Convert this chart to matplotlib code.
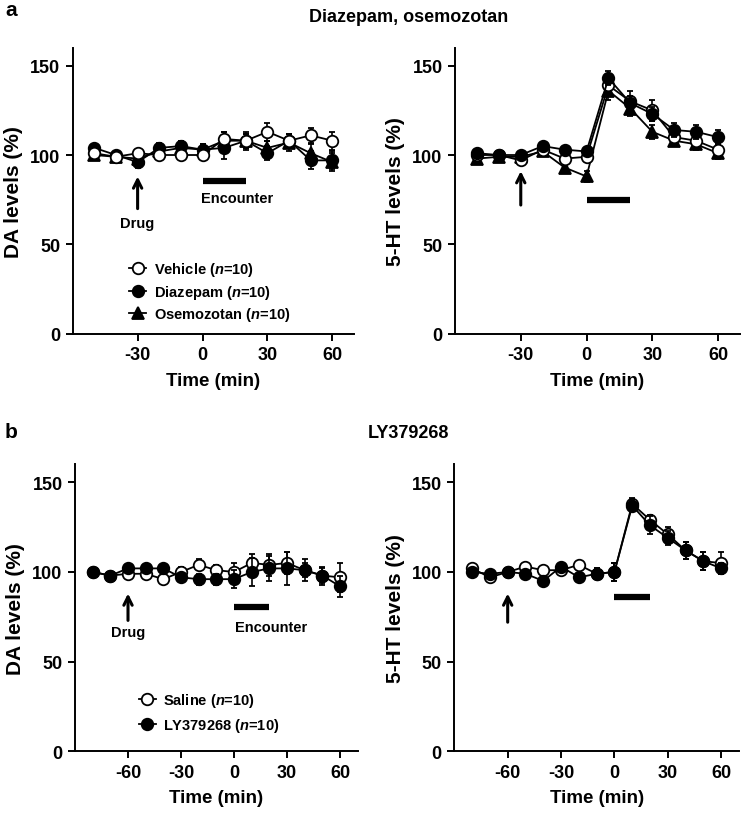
import matplotlib
matplotlib.use("Agg")
import matplotlib.pyplot as plt
from matplotlib.lines import Line2D

plt.rcParams['font.family'] = ['Liberation Sans', 'DejaVu Sans']
plt.rcParams['font.weight'] = 'bold'
plt.rcParams['mathtext.fontset'] = 'custom'
plt.rcParams['mathtext.it'] = 'Liberation Sans:italic:bold'
plt.rcParams['mathtext.rm'] = 'Liberation Sans:bold'

# ---------------- data ----------------
time_a = [-50, -40, -30, -20, -10, 0, 10, 20, 30, 40, 50, 60]
time_b = [-80, -70, -60, -50, -40, -30, -20, -10, 0, 10, 20, 30, 40, 50, 60]

# panel a, DA
da_vehicle = [101, 99, 101, 100, 100, 100, 109, 108, 113, 108, 111, 108]
da_vehicle_err = [2, 2, 2, 2, 2, 2, 4, 4, 5, 4, 4, 5]
da_diazepam = [104, 100, 96, 104, 105, 103, 104, 108, 101, 108, 97, 97]
da_diazepam_err = [2, 2, 3, 3, 3, 3, 6, 5, 4, 4, 5, 5]
da_osemozotan = [100, 99, 98, 102, 104, 103, 108, 108, 104, 107, 101, 96]
da_osemozotan_err = [2, 2, 2, 3, 4, 3, 5, 4, 4, 5, 5, 5]

# panel a, 5-HT
ht_vehicle = [100, 100, 97, 103, 98, 99, 139, 130, 125, 110, 108, 103]
ht_vehicle_err = [2, 2, 2, 2, 3, 3, 4, 6, 6, 4, 4, 3]
ht_diazepam = [101, 100, 100, 105, 103, 102, 143, 129, 123, 114, 113, 110]
ht_diazepam_err = [2, 2, 2, 2, 2, 2, 4, 4, 4, 4, 4, 4]
ht_osemozotan = [98, 99, 99, 102, 93, 88, 136, 126, 113, 108, 106, 101]
ht_osemozotan_err = [2, 2, 2, 2, 3, 3, 5, 4, 4, 3, 3, 3]

# panel b, DA
db_saline = [100, 98, 99, 99, 96, 100, 104, 101, 100, 105, 104, 105, 101, 98, 97]
db_saline_err = [2, 2, 2, 2, 2, 3, 3, 3, 5, 5, 6, 6, 4, 4, 8]
db_ly = [100, 98, 102, 102, 102, 97, 96, 96, 96, 100, 102, 102, 101, 98, 92]
db_ly_err = [2, 2, 2, 2, 2, 2, 3, 3, 5, 8, 7, 9, 6, 5, 6]

# panel b, 5-HT
hb_saline = [102, 97, 100, 103, 101, 101, 104, 99, 100, 138, 129, 121, 112, 106, 105]
hb_saline_err = [2, 2, 2, 2, 2, 2, 2, 3, 5, 3, 3, 4, 5, 5, 6]
hb_ly = [100, 99, 100, 99, 95, 103, 97, 99, 100, 137, 126, 119, 112, 106, 102]
hb_ly_err = [2, 2, 2, 2, 3, 2, 2, 3, 5, 3, 5, 4, 5, 5, 3]

drug_time_a = -30
drug_time_b = -60
encounter = [0, 20]

yticks = [0, 50, 100, 150]
xticks_a = [-30, 0, 30, 60]
xticks_b = [-60, -30, 0, 30, 60]

labels_a = ['Vehicle', 'Diazepam', 'Osemozotan']
labels_b = ['Saline', 'LY379268']

# ---------------- figure ----------------
W, H = 743, 820
fig = plt.figure(figsize=(W / 100, H / 100), dpi=100)


def add_ax(x0, x1, ybot, ytop):
    return fig.add_axes([x0 / W, 1 - ybot / H, (x1 - x0) / W, (ybot - ytop) / H])


axA1 = add_ax(72.7, 354, 334.7, 48.8)
axA2 = add_ax(455, 740, 334.7, 48.8)
axB1 = add_ax(75, 357.7, 752.3, 465.4)
axB2 = add_ax(454.3, 739, 752.3, 465.4)

MS = 8.3
STY = {
    'open': dict(marker='o', mfc='white', mec='black', ms=MS),
    'fill': dict(marker='o', mfc='black', mec='black', ms=MS),
    'tri': dict(marker='^', mfc='black', mec='black', ms=MS),
}


def series(ax, t, y, e, kind, z):
    ax.errorbar(t, y, yerr=e, color='black', lw=1.3, elinewidth=1.2,
                capsize=2.5, capthick=1.2, mew=1.3, zorder=z, clip_on=False,
                **STY[kind])


def style(ax, xlim, xticks, ylabel):
    ax.set_xlim(*xlim)
    ax.set_ylim(0, 160)
    ax.set_yticks(yticks)
    ax.set_xticks(xticks)
    ax.set_xticklabels([str(v) for v in xticks])
    for s in ['top', 'right']:
        ax.spines[s].set_visible(False)
    for s in ['left', 'bottom']:
        ax.spines[s].set_linewidth(1.4)
    ax.tick_params(direction='out', length=5, width=1.4, labelsize=13, pad=4)
    for lab in ax.get_xticklabels() + ax.get_yticklabels():
        lab.set_fontweight('bold')
    ax.set_xlabel('Time (min)', fontsize=13.5, fontweight='bold', labelpad=6)
    ax.set_ylabel(ylabel, fontsize=15, fontweight='bold', labelpad=5)


def bar(ax, y):
    ax.plot(encounter, [y, y], color='black', lw=4.5, solid_capstyle='butt')


def arrow(ax, x, y0, y1):
    ax.annotate('', xy=(x, y1), xytext=(x, y0),
                arrowprops=dict(arrowstyle='->,head_length=0.6,head_width=0.3',
                                color='black', lw=2.2, shrinkA=0, shrinkB=0))


# panel a left
series(axA1, time_a, da_osemozotan, da_osemozotan_err, 'tri', 3)
series(axA1, time_a, da_diazepam, da_diazepam_err, 'fill', 4)
series(axA1, time_a, da_vehicle, da_vehicle_err, 'open', 5)
style(axA1, (-60, 70), xticks_a, 'DA levels (%)')
arrow(axA1, drug_time_a, 70, 88)
axA1.text(drug_time_a, 62, 'Drug', ha='center', va='center', fontsize=10.5, fontweight='bold')
bar(axA1, 85.6)
axA1.text(encounter[0] - 0.5, 75.8, 'Encounter', ha='left', va='center', fontsize=10.5, fontweight='bold')

h_a = [Line2D([], [], color='black', lw=1.3, mew=1.3, **STY['open']),
       Line2D([], [], color='black', lw=1.3, mew=1.3, **STY['fill']),
       Line2D([], [], color='black', lw=1.3, mew=1.3, **STY['tri'])]
axA1.legend(h_a, [l + r' ($\mathit{n}$=10)' for l in labels_a],
            loc='upper left', bbox_to_anchor=(0.2, 0.258), frameon=False,
            handlelength=1.2, handletextpad=0.5, labelspacing=0.32,
            borderpad=0, borderaxespad=0, prop=dict(weight='bold', size=10.5))

# panel a right
series(axA2, time_a, ht_osemozotan, ht_osemozotan_err, 'tri', 3)
series(axA2, time_a, ht_vehicle, ht_vehicle_err, 'open', 4)
series(axA2, time_a, ht_diazepam, ht_diazepam_err, 'fill', 5)
style(axA2, (-60, 70), xticks_a, '5-HT levels (%)')
arrow(axA2, drug_time_a, 72, 91)
bar(axA2, 75)

# panel b left
series(axB1, time_b, db_saline, db_saline_err, 'open', 4)
series(axB1, time_b, db_ly, db_ly_err, 'fill', 5)
style(axB1, (-90, 70), xticks_b, 'DA levels (%)')
arrow(axB1, drug_time_b, 73, 88)
axB1.text(drug_time_b, 66.4, 'Drug', ha='center', va='center', fontsize=10.5, fontweight='bold')
bar(axB1, 80.5)
axB1.text(encounter[0] + 0.5, 69.2, 'Encounter', ha='left', va='center', fontsize=10.5, fontweight='bold')

h_b = [Line2D([], [], color='black', lw=1.3, mew=1.3, **STY['open']),
       Line2D([], [], color='black', lw=1.3, mew=1.3, **STY['fill'])]
axB1.legend(h_b, [l + r' ($\mathit{n}$=10)' for l in labels_b],
            loc='upper left', bbox_to_anchor=(0.225, 0.21), frameon=False,
            handlelength=1.2, handletextpad=0.5, labelspacing=0.5,
            borderpad=0, borderaxespad=0, prop=dict(weight='bold', size=10.5))

# panel b right
series(axB2, time_b, hb_saline, hb_saline_err, 'open', 4)
series(axB2, time_b, hb_ly, hb_ly_err, 'fill', 5)
style(axB2, (-90, 70), xticks_b, '5-HT levels (%)')
arrow(axB2, drug_time_b, 72, 88)
bar(axB2, 86)

# headers
fig.text(5 / W, 1 - 11 / H, 'a', fontsize=15, fontweight='bold', va='center', ha='left')
fig.text(409 / W, 1 - 17 / H, 'Diazepam, osemozotan', fontsize=13, fontweight='bold',
         va='center', ha='center')
fig.text(5 / W, 1 - 433 / H, 'b', fontsize=15, fontweight='bold', va='center', ha='left')
fig.text(408 / W, 1 - 434 / H, 'LY379268', fontsize=13, fontweight='bold',
         va='center', ha='center')

fig.savefig('out.png', dpi=100)
